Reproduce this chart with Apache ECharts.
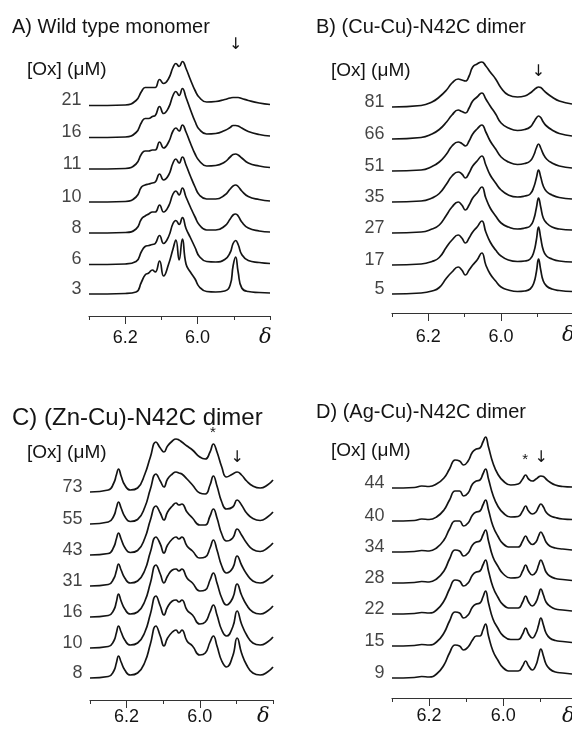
<!DOCTYPE html>
<html><head><meta charset="utf-8">
<script src="https://cdn.jsdelivr.net/npm/echarts@6/dist/echarts.min.js"></script>
<style>html,body{margin:0;padding:0;background:#fff}#c{width:572px;height:731px}</style>
</head><body><div id="c"></div>
<script>
// ---------- DATA (chemical shift in ppm, intensity) ----------
const tickLabels = [6.2, 6.0];
const minorTicks = [6.3, 6.1, 5.9, 5.8];

// Panel A: Wild type monomer
const ppmA = [6.30, 6.20, 6.17, 6.155, 6.145, 6.135, 6.125, 6.117, 6.105, 6.094, 6.08, 6.068, 6.06, 6.051, 6.042, 6.032, 6.02, 6.007, 5.995, 5.975, 5.95, 5.925, 5.91, 5.902, 5.895, 5.888, 5.878, 5.86, 5.83, 5.80];
const oxA = ['3', '6', '8', '10', '11', '16', '21'];
const A3  = [0, 0.5, 2, 12, 19, 21, 24, 22, 33, 18, 30, 45, 54, 34, 55, 30, 22, 15, 7, 2.5, 2, 3, 9, 28, 37, 22, 6, 2.5, 1.5, 1];
const A6  = [0, 0.5, 3, 13, 18, 19, 20, 21, 29, 21, 28, 41, 44, 40, 47, 36, 27, 17, 8, 3, 2.5, 5, 12, 21, 24, 20, 10, 4, 2, 1];
const A8  = [0, 0.5, 4, 14, 17, 19, 21, 21, 28, 21, 27, 39, 42, 38, 45, 36, 26, 16, 8, 3, 3, 7, 14, 18, 19, 17, 11, 5, 2, 1];
const A10 = [0, 0.5, 5, 15, 17, 18, 19, 20, 28, 22, 27, 39, 43, 39, 45, 37, 26, 15, 7, 3, 3, 7, 13, 16, 17, 15.5, 11, 5.5, 2.5, 1];
const A11 = [0, 0.5, 5, 15, 18, 18, 19, 19, 27, 21, 27, 38, 41, 38, 44, 37, 26, 15, 8, 3, 3.5, 7, 12, 14.5, 15, 14, 11, 6, 3, 1.5];
const A16 = [0, 0.5, 5, 15, 19, 19, 21, 22, 31, 24, 30, 42, 46, 42, 49, 40, 28, 16, 8, 3.5, 4, 7, 10, 12, 12, 11.5, 9.5, 6, 3, 1.5];
const A21 = [0, 0.5, 5, 14, 18, 18, 18, 18, 26, 22, 27, 38, 42, 39, 44, 37, 26, 15, 8, 3.5, 4, 6, 7.5, 8, 8, 8, 7, 5, 2.5, 1];

// Panel B: (Cu-Cu)-N42C dimer
const ppmB = [6.30, 6.22, 6.19, 6.17, 6.15, 6.135, 6.118, 6.108, 6.098, 6.088, 6.078, 6.066, 6.053, 6.042, 6.03, 6.015, 6.0, 5.98, 5.955, 5.935, 5.92, 5.91, 5.903, 5.897, 5.891, 5.884, 5.875, 5.86, 5.84, 5.805];
const oxB = ['5', '17', '27', '35', '51', '66', '81'];
const B5  = [0, 1, 3, 6.5, 16, 22, 27, 24, 19, 24, 29, 34, 41, 29, 20, 13, 7, 4, 2.5, 3, 5, 11, 22, 35, 24, 13, 8, 5, 3.5, 2.5];
const B17 = [0, 1, 3.5, 7.5, 18, 25, 30, 27, 22, 27, 33, 38, 44, 33, 23, 15, 9, 5, 3.5, 4, 6, 13, 25, 38, 27, 15, 9, 6, 4, 3];
const B27 = [0, 1, 4, 8, 18, 26, 31, 28, 23, 28, 35, 40, 46, 35, 25, 17, 10, 6, 4, 5, 7, 14, 25, 35, 26, 15, 10, 6, 4, 3];
const B35 = [0, 1, 4, 8.5, 18, 26, 30, 28, 24, 29, 36, 41, 46, 37, 27, 19, 12, 7, 5, 6, 8, 15, 24, 32, 25, 16, 10.5, 7, 4.5, 3];
const B51 = [0, 1, 4.5, 9, 17, 25, 29, 27.5, 25, 30, 37, 42, 46, 39, 30, 22, 14, 9, 6.5, 7.5, 10, 16, 23, 27, 23, 17, 12, 8, 5, 3];
const B66 = [0, 1.5, 5, 9.5, 17, 24, 29, 27.5, 26, 31, 38, 42, 46, 40, 33, 25, 16, 11, 8.5, 9.5, 12, 17, 21, 23, 21.5, 17, 13, 9, 5.5, 3];
const B81 = [0, 1.5, 5, 10, 17, 24, 28, 27, 26, 31, 40, 43, 45, 41, 35, 28, 19, 12, 10, 11, 14, 17, 19, 20, 19.5, 17, 14, 10, 6, 3];

// Panel C: (Zn-Cu)-N42C dimer
const ppmC = [6.30, 6.25, 6.235, 6.228, 6.222, 6.215, 6.205, 6.19, 6.17, 6.15, 6.135, 6.12, 6.108, 6.098, 6.088, 6.075, 6.065, 6.057, 6.049, 6.035, 6.02, 6.0, 5.985, 5.972, 5.963, 5.953, 5.94, 5.927, 5.91, 5.898, 5.886, 5.872, 5.855, 5.835, 5.815, 5.80];
const oxC = ['8', '10', '16', '31', '43', '55', '73'];
const C8  = [0, 1.5, 7, 15, 22, 16, 8, 3, 5, 16, 34, 52, 42, 32, 40, 46, 48, 45, 48, 37, 32, 23, 25, 36, 42, 32, 17, 11, 22, 40, 25, 13, 5, 3, 6, 11];
const C10 = [0, 1.5, 7, 15, 22, 16, 8, 3, 5, 16, 34, 52, 42, 33, 41, 47, 48, 46, 48, 38, 33, 24, 26, 36, 43, 33, 18, 12, 21, 37, 24, 13, 5, 3, 6, 11];
const C16 = [0, 1.5, 7, 15, 23, 16, 8, 3, 5, 16, 34, 52, 43, 34, 41, 47, 48, 46, 48, 39, 34, 26, 27, 37, 44, 34, 19, 12, 19, 33, 22, 12, 5, 3, 6, 11];
const C31 = [0, 1.5, 7.5, 15, 22, 16, 8, 3, 5, 16, 34, 49, 42, 33, 41, 47, 49, 47, 49, 40, 35, 28, 29, 38, 46, 36, 20, 13, 18, 30, 21, 12, 5, 3, 6, 11];
const C43 = [0, 1.5, 8, 16, 22, 16, 7.5, 2.5, 4.5, 17, 35, 49, 42, 35, 43, 49, 52, 50, 51, 43, 37, 30, 30, 39, 46, 37, 21, 14, 17, 26, 20, 12, 5.5, 3.5, 7, 12];
const C55 = [0, 2, 8, 16, 22, 16, 7.5, 2.5, 4.5, 17, 35, 50, 43, 37, 45, 50, 52, 51, 50, 45, 39, 31, 30, 39, 48, 38, 22, 15, 17, 24, 19, 11, 5.5, 3.5, 7, 12];
const C73 = [0, 2, 9, 17, 23, 16, 7, 2, 4, 18, 35, 50, 44, 40, 46, 51, 53, 52, 50, 46, 42, 35, 33, 40, 48, 40, 25, 15, 18, 20, 17, 11, 6, 4, 7, 12];

// Panel D: (Ag-Cu)-N42C dimer
const ppmD = [6.30, 6.24, 6.22, 6.20, 6.18, 6.16, 6.145, 6.13, 6.118, 6.107, 6.095, 6.083, 6.073, 6.063, 6.055, 6.048, 6.04, 6.028, 6.015, 6.0, 5.98, 5.96, 5.948, 5.94, 5.932, 5.922, 5.912, 5.905, 5.899, 5.892, 5.885, 5.875, 5.86, 5.84, 5.815];
const oxD = ['9', '15', '22', '28', '34', '40', '44'];
const D9  = [0, 0.5, 1.5, 1, 4, 13, 25, 33, 32, 28, 31, 38, 42, 42, 48, 54, 42, 27, 18, 10, 7, 7, 12, 17, 12, 8, 13, 22, 29, 22, 14, 9, 6, 5, 4];
const D15 = [0, 0.5, 1.5, 1, 4, 13, 25, 34, 33, 28, 31, 39, 42, 43, 49, 55, 43, 27, 18, 10, 6.5, 6.5, 12, 18, 12, 8, 13, 21, 28, 21, 13, 8, 5.5, 4.5, 3.5];
const D22 = [0, 0.5, 1.5, 1, 4, 13, 25, 34, 33, 28, 31, 39, 42, 43, 49, 54, 43, 27, 17, 9, 6, 6, 12, 18, 12, 8, 12, 19, 25, 19, 12, 8, 5, 4, 3];
const D28 = [0, 0.5, 1.5, 1, 4, 12, 24, 33, 32, 27, 30, 38, 41, 42, 48, 53, 42, 26, 17, 9, 5, 5.5, 12, 18, 12, 8, 11, 18, 23, 18, 11, 7, 4.5, 3.5, 2.5];
const D34 = [0, 0.5, 1.5, 1, 4, 12, 23, 31, 31, 26, 29, 37, 40, 41, 47, 52, 42, 26, 16, 8, 5, 5, 11, 16, 11, 7.5, 10, 16, 20, 16, 10, 6, 4, 3, 2];
const D40 = [0, 0.5, 2, 1.5, 4, 11, 21, 30, 30, 25, 28, 37, 40, 41, 47, 52, 42, 26, 15, 8, 4, 4.5, 10, 15, 10, 7, 9, 14, 17, 14, 9, 5.5, 3.5, 2, 1.5];
const D44 = [0, 0.5, 2, 1.5, 4, 10, 19, 28, 27, 23, 27, 36, 39, 40, 46, 51, 41, 25, 14, 7, 3, 4, 9, 13, 9, 7, 9, 11, 12, 11.5, 9, 6, 3, 1.5, 1];

// ---------- LAYOUT ----------
const FONT = 'Liberation Sans, Arial, Helvetica, sans-serif';
const INK = '#141414';
const panels = [
  { title: 'A) Wild type monomer', ppm: ppmA, ox: oxA, spectra: [A3, A6, A8, A10, A11, A16, A21], xmin: 5.80,
    grid: { left: 89, top: 30, width: 181, height: 286 }, stack: [22, 51.5, 83, 114, 147, 178.5, 210.5], labelMargin: 13,
    marks: [{ t: '↓', x: 5.895, y: 271 }] },
  { title: 'B) (Cu-Cu)-N42C dimer', ppm: ppmB, ox: oxB, spectra: [B5, B17, B27, B35, B51, B66, B81], xmin: 5.805,
    grid: { left: 392, top: 30, width: 180, height: 283 }, stack: [19, 48, 80, 111, 142, 174, 206], labelMargin: 15,
    marks: [{ t: '↓', x: 5.897, y: 241 }] },
  { title: 'C) (Zn-Cu)-N42C dimer', ppm: ppmC, ox: oxC, spectra: [C8, C10, C16, C31, C43, C55, C73], xmin: 5.80,
    grid: { left: 90, top: 400, width: 183, height: 300 }, stack: [22, 52, 83, 114, 145, 176, 208], labelMargin: 8,
    marks: [{ t: '*', x: 5.964, y: 267 }, { t: '↓', x: 5.898, y: 242 }] },
  { title: 'D) (Ag-Cu)-N42C dimer', ppm: ppmD, ox: oxD, spectra: [D9, D15, D22, D28, D34, D40, D44], xmin: 5.815,
    grid: { left: 392, top: 400, width: 180, height: 298 }, stack: [20, 52, 84, 115, 146, 177, 210], labelMargin: 9,
    marks: [{ t: '*', x: 5.941, y: 238 }, { t: '↓', x: 5.898, y: 240 }] }
];
const titlePos = [
  { main: [12, 17, 20], ox: [27, 60], delta: [259, 327] },
  { main: [316, 17, 20], ox: [331, 61], delta: [562, 325] },
  { main: [12, 406, 24], ox: [27, 443], delta: [257, 706] },
  { main: [316, 402, 20], ox: [331, 441], delta: [562, 706] }
];

const grids = [], xAxes = [], yAxes = [], series = [], titles = [];
panels.forEach((p, pi) => {
  grids.push(Object.assign({ containLabel: false }, p.grid));
  const common = { type: 'value', gridIndex: pi, min: p.xmin, max: 6.30, inverse: true, position: 'bottom', splitLine: { show: false } };
  xAxes.push(Object.assign({}, common, {
    axisLine: { show: true, lineStyle: { color: '#333', width: 1.2 } },
    axisTick: { show: true, customValues: minorTicks.filter(v => v >= p.xmin - 1e-9), length: 4, lineStyle: { color: '#333', width: 1 } },
    axisLabel: { show: true, customValues: tickLabels, formatter: v => Number(v).toFixed(1), margin: p.labelMargin,
      fontSize: 18, color: INK, fontFamily: FONT }
  }));
  xAxes.push(Object.assign({}, common, {
    axisLine: { show: false },
    axisTick: { show: true, customValues: tickLabels, length: 8, lineStyle: { color: '#333', width: 1 } },
    axisLabel: { show: false }
  }));
  yAxes.push({ type: 'value', gridIndex: pi, min: 0, max: p.grid.height, show: false });

  p.spectra.forEach((vals, k) => {
    const s = {
      type: 'line', xAxisIndex: pi * 2, yAxisIndex: pi, name: p.ox[k],
      data: p.ppm.map((x, i) => [x, vals[i] + p.stack[k]]),
      showSymbol: false, symbol: 'none', smooth: 0.5, silent: true, clip: false,
      lineStyle: { color: INK, width: 1.7 }
    };
    if (k === p.spectra.length - 1) {
      s.markPoint = {
        silent: true, symbol: 'circle', symbolSize: 1, itemStyle: { color: 'rgba(0,0,0,0)' },
        data: p.marks.map(m => ({ coord: [m.x, m.y], label: { show: true, position: 'inside', formatter: m.t,
          fontSize: m.t === '*' ? 15 : 16, color: INK, fontFamily: m.t === '*' ? FONT : 'DejaVu Sans' } }))
      };
    }
    series.push(s);
  });
  series.push({
    type: 'scatter', xAxisIndex: pi * 2, yAxisIndex: pi, symbolSize: 1, silent: true, clip: false,
    itemStyle: { color: 'rgba(0,0,0,0)' },
    data: p.ox.map((o, k) => ({ name: o, value: [6.30, p.stack[k]] })),
    label: { show: true, position: 'left', distance: 7, offset: [0, -5], formatter: '{b}', fontSize: 18, color: INK, fontFamily: FONT }
  });

  const tp = titlePos[pi];
  titles.push({ text: p.title, left: tp.main[0], top: tp.main[1], padding: 0,
    textStyle: { fontSize: tp.main[2], fontWeight: 'normal', color: INK, fontFamily: FONT } });
  titles.push({ text: '[Ox] (μM)', left: tp.ox[0], top: tp.ox[1], padding: 0,
    textStyle: { fontSize: 19, fontWeight: 'normal', color: INK, fontFamily: FONT } });
  titles.push({ text: 'δ', left: tp.delta[0], top: tp.delta[1], padding: 0,
    textStyle: { fontSize: 21, fontWeight: 'normal', fontStyle: 'italic', color: INK, fontFamily: 'DejaVu Serif, Liberation Serif, serif' } });
});

const chart = echarts.init(document.getElementById('c'), null, { renderer: 'canvas' });
chart.setOption({
  backgroundColor: '#ffffff',
  animation: false,
  title: titles,
  grid: grids,
  xAxis: xAxes,
  yAxis: yAxes,
  series: series
});
</script>
</body></html>
